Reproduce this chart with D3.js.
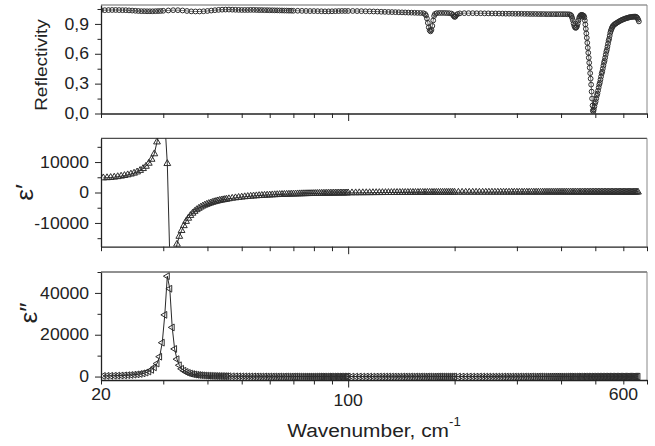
<!DOCTYPE html>
<html lang="en">
<head>
  <meta charset="utf-8">
  <title>Reflectivity and dielectric function</title>
  <script src="https://cdn.jsdelivr.net/npm/d3@7"></script>
  <style>
    body { margin: 0; background: #fff; }
    svg { display: block; font-family: "Liberation Sans", Arial, "DejaVu Sans", sans-serif; }
  </style>
</head>
<body>
<svg width="655" height="446"></svg>
<script>

// reflectivity: [wavenumber, R]
const reflectivity = [
  [20,1.038],[20.5,1.038],[21,1.039],[21.5,1.04],[22,1.04],[22.5,1.039],[23,1.038],[23.5,1.038],[24,1.036],[24.5,1.034],
  [25,1.032],[25.5,1.03],[26,1.028],[26.5,1.028],[27,1.027],[27.5,1.027],[28,1.027],[28.5,1.028],[29,1.029],[29.5,1.03],[30,1.032],
  [31,1.035],[32,1.038],[33,1.038],[34,1.035],[35,1.03],[36,1.026],[37,1.025],[38,1.025],[39,1.027],[40,1.03],
  [41,1.034],[42,1.038],[43,1.041],[44,1.043],[45,1.044],[46,1.044],[47,1.043],[48,1.042],[49,1.041],[50,1.04],
  [51,1.04],[52,1.04],[53,1.041],[54,1.041],[55,1.04],[56,1.039],[57,1.039],[58,1.038],[59,1.038],[60,1.037],
  [61,1.037],[62,1.036],[63,1.036],[64,1.035],[65,1.035],[66,1.034],[67,1.034],[68,1.033],[69,1.033],[70,1.032],
  [72,1.032],[74,1.031],[76,1.03],[78,1.029],[80,1.029],[82,1.028],[84,1.027],[86,1.026],[88,1.026],[90,1.027],
  [92,1.028],[94,1.029],[96,1.03],[98,1.03],[100,1.03],
  [103,1.03],[106,1.029],[109,1.028],[112,1.027],[115,1.026],[118,1.025],[121,1.024],[124,1.022],[127,1.021],[130,1.02],
  [133,1.019],[136,1.018],[139,1.017],[142,1.016],[145,1.015],[148,1.014],[151,1.013],[154,1.012],[157,1.011],[160,1.01],[163,1.008],
  [165,1.0],[166,0.985],[167,0.955],[168,0.91],[169,0.865],[170,0.835],[171,0.825],[172,0.84],[173,0.88],[174,0.935],[175,0.98],[176,1.0],
  [178,1.008],[181,1.01],[184,1.01],[187,1.01],[190,1.009],[193,1.008],[196,1.004],[198,0.99],[199,0.978],[200,0.97],[201,0.974],[202,0.988],[204,1.0],[207,1.006],
  [213,1.008],[219,1.008],[225,1.008],[231,1.007],[237,1.007],[243,1.006],[249,1.006],[255,1.005],[261,1.005],[267,1.004],
  [273,1.004],[279,1.003],[285,1.003],[291,1.003],[297,1.002],[303,1.002],[309,1.002],[315,1.001],[321,1.001],[327,1.0],
  [333,1.0],[339,1.0],[345,0.999],[351,0.999],[357,0.999],[363,0.998],[369,0.998],[375,0.998],[381,0.998],[387,0.998],
  [393,0.998],[399,0.998],[405,0.998],[411,0.998],[417,0.997],[422,0.996],
  [426,0.99],[428,0.98],[430,0.96],[432,0.935],[434,0.905],[436,0.88],[438,0.865],[440,0.86],[442,0.865],[444,0.88],
  [446,0.905],[448,0.935],[450,0.96],[452,0.975],[454,0.985],[456,0.99],[458,0.99],[460,0.988],[462,0.985],[464,0.98],
  [465.5,0.965],[467,0.935],[468.5,0.895],[470,0.85],[471.5,0.805],[473,0.76],[474.5,0.71],[476,0.66],[477.5,0.61],[479,0.56],
  [480.5,0.51],[482,0.46],[483.5,0.405],[485,0.35],[486.5,0.29],[488,0.22],[489.5,0.15],[491,0.08],[492,0.03],
  [493.5,0.02],[495,0.04],[497,0.07],[499,0.1],[501,0.12],[503,0.15],[505,0.18],[507,0.2],[509,0.23],[511,0.26],
  [513,0.29],[515,0.31],[517,0.34],[519,0.37],[521,0.4],[523,0.42],[525,0.45],[527,0.48],[529,0.51],[531,0.53],
  [533,0.56],[535,0.59],[537,0.62],[539,0.64],[541,0.67],[543,0.7],[545,0.73],[547,0.75],[549,0.78],[551,0.81],
  [553,0.83],[555,0.845],[557,0.86],[559,0.872],[561,0.88],
  [564,0.889],[567,0.896],[570,0.902],[573,0.907],[577,0.914],[581,0.921],[585,0.927],[589,0.933],[593,0.938],[597,0.943],
  [601,0.947],[605,0.951],[609,0.955],[613,0.958],[617,0.961],[621,0.964],[625,0.967],[629,0.969],[633,0.97],[637,0.971],
  [641,0.972],[645,0.973],[649,0.973],[652,0.971],[655,0.966],[658,0.957],[661,0.943],[664,0.925]
];

// dielectric function, shared wavenumber grid
const epsWave = [
  20.3,20.8,21.3,21.8,22.3,22.8,23.3,23.8,24.3,24.8,
  25.3,25.8,26.3,26.8,27.3,27.8,28.3,28.8,29.3,29.8,
  30.3,30.8,31.3,31.8,32.3,32.8,33.3,33.8,34.3,34.8,
  35.3,35.8,36.3,36.8,37.3,37.8,38.3,38.8,39.3,39.8,
  40.3,40.8,41.3,41.8,42.3,42.8,43.3,43.8,44.3,44.8,
  45.3,
  46,47,48,49,50,51,52,53,54,55,
  56,57,58,59,60,61,62,63,64,65,
  66,67,68,69,70,71,72,73,74,75,
  76,77,78,79,80,81,82,83,84,85,
  86,87,88,89,90,91,92,93,94,95,
  96,97,98,99,100,
  102.5,105,107.5,110,112.5,115,117.5,120,122.5,125,
  127.5,130,132.5,135,137.5,140,142.5,145,147.5,150,
  152.5,155,157.5,160,162.5,165,167.5,170,172.5,175,
  177.5,180,182.5,185,187.5,190,192.5,195,197.5,200,
  205,210,215,220,225,230,235,240,245,250,
  255,260,265,270,275,280,285,290,295,300,
  305,310,315,320,325,330,335,340,345,350,
  355,360,365,370,375,380,385,390,395,400,
  405,410,415,420,425,430,435,440,445,450,
  455,460,465,470,475,480,485,490,495,500,
  505,510,515,520,525,530,535,540,545,550,
  555,560,565,570,575,580,585,590,595,600,
  605,610,615,620,625,630,635,640,645,650,
  655,660
];

const epsReal = [
  4800,4850,4930,5050,5200,5370,5570,5800,6050,6350,
  6750,7250,7850,8600,9600,10900,12700,16600,20500,24000,
  23500,9500,-21000,-24500,-21000,-17000,-14400,-12500,-10900,-9500,
  -8450,-7550,-6800,-6200,-5650,-5200,-4800,-4450,-4150,-3900,
  -3650,-3450,-3250,-3050,-2900,-2750,-2600,-2500,-2400,-2300,
  -2200,
  -2060,-1890,-1750,-1620,-1510,-1400,-1310,-1230,-1150,-1090,
  -1020,-965,-910,-860,-820,-775,-735,-700,-665,-630,
  -600,-575,-545,-520,-500,-475,-455,-435,-415,-395,
  -380,-365,-350,-335,-320,-305,-295,-280,-270,-255,
  -245,-235,-225,-215,-205,-200,-190,-180,-175,-165,
  -160,-150,-145,-140,-130,
  -115,-105,-90,-80,-70,-60,-50,-40,-30,-25,
  -15,-10,-5,0,10,15,20,25,25,30,
  35,40,45,45,50,55,55,60,60,65,
  65,70,70,75,75,75,80,80,85,85,
  90,90,95,95,100,100,105,105,105,110,
  110,110,115,115,115,115,120,120,120,120,
  120,120,125,125,125,125,125,125,130,130,
  130,130,130,130,130,130,130,135,135,135,
  135,135,135,135,135,135,135,135,135,135,
  135,140,140,140,140,140,140,140,140,140,
  140,140,140,140,140,140,140,140,140,140,
  140,140,140,142,142,142,142,142,142,142,
  142,142,142,142,142,142,142,142,142,142,
  142,142
];

const epsImag = [
  290,320,360,400,450,500,570,660,760,890,
  1050,1250,1530,1900,2430,3200,4400,6200,9500,16200,
  29500,48000,42000,23500,13200,8300,5400,3700,2800,2200,
  1750,1420,1180,990,845,725,630,555,490,435,
  390,350,318,290,264,242,222,205,190,176,
  164,
  149,130,115,102,91,82,74,67,61,56,
  51,47,44,40,37,35,32,30,28,26,
  25,23,22,21,20,19,18,17,16,15,
  14,14,13,12,12,11,11,10,10,9,
  9,9,8,8,8,7,7,7,7,6,
  6,6,6,6,5,
  5,5,4,4,4,4,3,3,3,3,
  3,3,3,2,2,2,2,2,2,2,
  2,2,2,2,2,1,1,1,1,1,
  1,1,1,1,1,1,1,1,1,1,
  1,1,1,1,1,1,1,1,1,1,
  1,1,1,1,1,1,1,1,1,1,
  0,0,0,0,0,0,0,0,0,0,
  0,0,0,0,0,0,0,0,0,0,
  0,0,0,0,0,0,0,0,0,0,
  0,0,0,0,0,0,0,0,0,0,
  0,0,0,0,0,0,0,0,0,0,
  0,0,0,0,0,0,0,0,0,0,
  0,0,0,0,0,0,0,0,0,0,
  0,0
];

// ticks
const waveMajor = [100];
const waveMinor = [20, 30, 40, 50, 60, 70, 80, 90, 200, 300, 400, 500, 600, 700];
const waveLabels = [20, 100, 600];
const reflMajor = [0, 0.3, 0.6, 0.9];
const reflMinor = [0.15, 0.45, 0.75, 1.05];
const realMajor = [-10000, 0, 10000];
const realMinor = [-15000, -5000, 5000, 15000];
const imagMajor = [0, 20000, 40000];
const imagMinor = [10000, 30000, 50000];

if (epsReal.length !== epsWave.length || epsImag.length !== epsWave.length)
  console.error('eps arrays out of step', epsWave.length, epsReal.length, epsImag.length);

const ink = '#222';
const markInk = '#2e2e2e';
const svg = d3.select('svg');
const x = d3.scaleLog().domain([20, 700]).range([101, 647]);

const panels = [
  { top: 5, bottom: 113.5, domain: [0, 1.09],
    data: reflectivity, major: reflMajor, minor: reflMinor,
    format: v => d3.format('.1f')(v).replace('.', ','),
    symbol: d3.symbol(d3.symbolCircle, 18), rotate: 0, lineW: 0.6,
    title: 'Reflectivity', titleX: 47, titleY: 65, titleSize: 16.5, topColor: '#999', topW: 1.5 },
  { top: 138.3, bottom: 246.7, domain: [-17800, 17800],
    data: epsWave.map((w, i) => [w, epsReal[i]]), major: realMajor, minor: realMinor,
    format: v => String(v),
    symbol: d3.symbol(d3.symbolTriangle, 20), rotate: 0, lineW: 0.9,
    title: 'ε′', titleX: 33, titleY: 192.5, titleSize: 23, topColor: ink, topW: 1 },
  { top: 272, bottom: 380, domain: [-1650, 50000],
    data: epsWave.map((w, i) => [w, epsImag[i]]), major: imagMajor, minor: imagMinor,
    format: v => String(v),
    symbol: d3.symbol(d3.symbolTriangle, 20), rotate: -90, lineW: 0.9,
    title: 'ε″', titleX: 37, titleY: 313, titleSize: 23, topColor: ink, topW: 1 }
];

const stretch = 1.1;

panels.forEach((p, i) => {
  const y = d3.scaleLinear().domain(p.domain).range([p.bottom, p.top]);
  const [x0, x1] = x.range();

  svg.append('clipPath').attr('id', 'clip' + i)
    .append('rect')
    .attr('x', x0).attr('y', p.top)
    .attr('width', x1 - x0).attr('height', p.bottom - p.top);

  const plot = svg.append('g').attr('clip-path', `url(#clip${i})`);
  plot.append('path')
    .datum(p.data)
    .attr('fill', 'none')
    .attr('stroke', '#111')
    .attr('stroke-width', p.lineW)
    .attr('d', d3.line().x(d => x(d[0])).y(d => y(d[1])));
  plot.selectAll('path.mark')
    .data(p.data)
    .join('path')
    .attr('class', 'mark')
    .attr('d', p.symbol)
    .attr('transform', d => `translate(${x(d[0])},${y(d[1])}) rotate(${p.rotate})`)
    .attr('fill', 'none')
    .attr('stroke', markInk)
    .attr('stroke-width', 1);

  // frame: top and right
  svg.append('line')
    .attr('x1', x0).attr('x2', x1).attr('y1', p.top).attr('y2', p.top)
    .attr('stroke', p.topColor).attr('stroke-width', p.topW);
  svg.append('line')
    .attr('x1', x1).attr('x2', x1).attr('y1', p.top).attr('y2', p.bottom)
    .attr('stroke', '#888').attr('stroke-width', 1);

  // y axis
  const yAxis = svg.append('g')
    .attr('transform', `translate(${x0},0)`)
    .call(d3.axisLeft(y).tickValues(p.major).tickSize(6).tickPadding(6)
      .tickSizeOuter(0).tickFormat(p.format));
  yAxis.attr('font-family', null).attr('font-size', 16).attr('color', ink);
  yAxis.select('.domain').attr('stroke-width', 1.3);
  yAxis.selectAll('.tick text')
    .attr('transform', `translate(-12,0) scale(${stretch},1) translate(12,0)`);
  svg.append('g')
    .attr('transform', `translate(${x0},0)`)
    .attr('color', ink)
    .call(d3.axisLeft(y).tickValues(p.minor).tickSize(3.5).tickFormat(''))
    .call(g => g.select('.domain').remove());

  // x axis
  const xAxis = svg.append('g')
    .attr('transform', `translate(0,${p.bottom})`)
    .attr('color', ink)
    .call(d3.axisBottom(x).tickValues(waveMajor).tickSize(7.5).tickSizeOuter(0).tickFormat(''));
  xAxis.select('.domain').attr('stroke-width', 1.3);
  svg.append('g')
    .attr('transform', `translate(0,${p.bottom})`)
    .attr('color', ink)
    .call(d3.axisBottom(x).tickValues(waveMinor).tickSize(4.5).tickFormat(''))
    .call(g => g.select('.domain').remove());

  svg.append('text')
    .attr('transform', `translate(${p.titleX},${p.titleY}) rotate(-90) scale(1.15,1)`)
    .attr('text-anchor', 'middle')
    .attr('font-size', p.titleSize)
    .attr('fill', ink)
    .text(p.title);
});

// wavenumber labels under the last panel
svg.append('g')
  .selectAll('text')
  .data(waveLabels)
  .join('text')
  .attr('transform', d => `translate(${x(d)},${d === 100 ? 406 : 400}) scale(${stretch},1)`)
  .attr('text-anchor', 'middle')
  .attr('font-size', 16)
  .attr('fill', ink)
  .text(d => d);

const xTitle = svg.append('text')
  .attr('transform', `translate(${d3.mean(x.range())},437) scale(${stretch},1)`)
  .attr('text-anchor', 'middle')
  .attr('font-size', 19)
  .attr('fill', ink);
xTitle.append('tspan').text('Wavenumber, cm');
xTitle.append('tspan').attr('dy', -11).attr('font-size', 12).text('-1');

</script>
</body>
</html>
